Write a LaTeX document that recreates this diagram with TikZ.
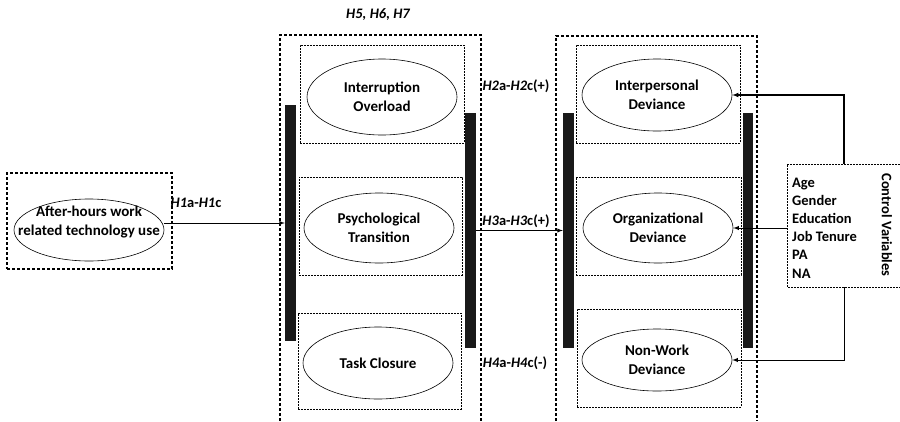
\documentclass[tikz,border=0pt]{standalone}
\usepackage{fontspec}
\setmainfont{Carlito}
\usetikzlibrary{calc, shapes.geometric, positioning}

\begin{document}
\begin{tikzpicture}[>=latex, x=1pt, y=-1pt,
    outerbox/.style={line width=1.1pt, dash pattern=on 3pt off 2pt},
    innerbox/.style={draw, line width=0.8pt, dash pattern=on 2pt off 1pt,
        minimum width=164pt, minimum height=98pt, inner sep=0pt},
    var/.style={ellipse, draw, line width=0.6pt, minimum width=150pt,
        minimum height=72pt, align=center, inner sep=0pt,
        font=\fontsize{15}{19}\selectfont\bfseries},
    bar/.style={fill=black!90, minimum width=11pt, minimum height=235pt, inner sep=0pt},
    hyp/.style={font=\fontsize{14.5}{16}\selectfont\bfseries, inner sep=1pt}]

    \useasboundingbox (0,0) rectangle (900,421);

    % 1. Biến độc lập
    \node[draw, outerbox, minimum width=165pt, minimum height=96pt] (lbox) at (89.5,221) {};
    \node[var, minimum height=62pt] (wtu) at (89,230) {};
    \node[align=center, inner sep=0pt, font=\fontsize{15}{19}\selectfont\bfseries]
        (wtu-text) at (89,222) {After-hours work\\related technology use};

    % 2. Các biến trung gian
    \draw[outerbox] (280,421) |- (481,35) -- (481,421);
    \node[innerbox] (mb1) at (382,94) {};
    \node[innerbox, minimum width=163pt] (mb2) at (380.5,226) {};
    \node[innerbox, minimum width=163pt, minimum height=96pt] (mb3) at (379.5,361) {};
    \node[var, minimum height=76pt] (io) at (382,97) {Interruption\\Overload};
    \node[var, minimum height=70pt] (pt) at (379,228) {Psychological\\Transition};
    \node[var] (tc) at (378,363) {Task Closure};
    \node[bar, minimum height=236pt] (bm1) at (290.5,223) {};
    \node[bar] (bm2) at (470.5,230.5) {};

    % 3. Các biến phụ thuộc
    \draw[outerbox] (556,421) |- (757,36) -- (757,421);
    \node[innerbox] (rb1) at (658,94) {};
    \node[innerbox, minimum width=165pt] (rb2) at (658.5,226) {};
    \node[innerbox] (rb3) at (659,358) {};
    \node[var] (ipd) at (657,95) {Interpersonal\\Deviance};
    \node[var, minimum height=70pt] (od) at (658,228) {Organizational\\Deviance};
    \node[var, minimum height=62pt] (nwd) at (657,360) {Non-Work\\Deviance};
    \node[bar] (bl2) at (568.5,230.5) {};
    \node[bar, minimum width=10pt] (br2) at (748,230.5) {};

    % 4. Biến kiểm soát
    \draw[line width=0.8pt, dash pattern=on 2pt off 1pt] (900,164) -| (787,287) -- (900,287);
    \node[anchor=north west, align=left, inner sep=0pt,
        font=\fontsize{14.5}{18.2}\selectfont\bfseries] (cv) at (792,177.5)
        {Age\\Gender\\Education\\Job Tenure\\PA\\NA};
    \node[rotate=-90, font=\fontsize{14.5}{16}\selectfont\bfseries] (cvt) at (887,225) {Control Variables};
    \coordinate (cv-top) at (844,164);
    \coordinate (cv-left) at (787,228);
    \coordinate (cv-bot) at (844,287);

    % 5. Các mũi tên
    \draw[->, line width=0.9pt] (wtu.east |- bm1.west) -- (bm1.west);
    \draw[->, line width=0.9pt] (bm2.east) -- (bl2.west);
    \draw[->, line width=1.1pt] (cv-top) |- (ipd.east);
    \draw[->, line width=0.9pt] (cv-left) -- (od.east);
    \draw[->, line width=0.9pt] (cv-bot) |- (nwd.east);

    % 6. Giả thuyết
    \node[hyp] (h567) at (378,15) {\itshape H5, H6, H7};
    \node[hyp] (h1) at (196,203) {\textit{H1}a-\textit{H1}c};
    \node[hyp] (h2) at (516,86) {\textit{H2}a-\textit{H2}c(+)};
    \node[hyp] (h3) at (516,221) {\textit{H3}a-\textit{H3}c(+)};
    \node[hyp] (h4) at (515,363) {\textit{H4}a-\textit{H4}c(-)};
\end{tikzpicture}
\end{document}
